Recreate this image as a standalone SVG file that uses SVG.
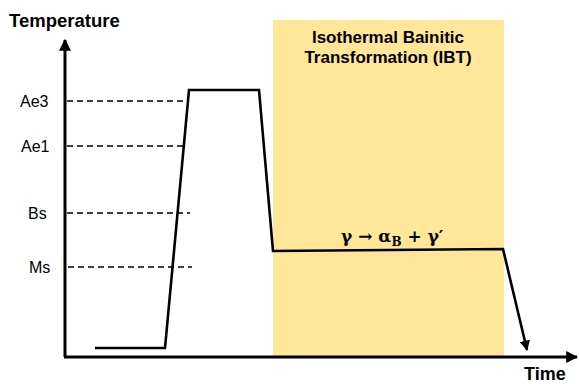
<svg xmlns="http://www.w3.org/2000/svg" width="579" height="384" viewBox="0 0 579 384">
<defs>
<style>
.lbl{font-family:"Liberation Sans",Arial,sans-serif;font-size:16px;fill:#000}
.bold{font-family:"Liberation Sans",Arial,sans-serif;font-weight:bold;fill:#000}
.dash{stroke:#000;stroke-width:1.5;stroke-dasharray:6 4;fill:none}
.axis{stroke:#000;stroke-width:3;fill:none}
.curve{stroke:#000;stroke-width:2.6;fill:none;stroke-linejoin:miter}
.eq{font-family:"DejaVu Serif","Liberation Serif",serif;font-weight:bold;font-size:17px;fill:#000}
</style>
<marker id="ah" viewBox="0 0 10 10" refX="9" refY="5" markerWidth="4" markerHeight="4" orient="auto" markerUnits="strokeWidth">
<path d="M0,0 L10,5 L0,10 z" fill="#000"/>
</marker>
<marker id="ah2" viewBox="0 0 10 10" refX="9" refY="5" markerWidth="4" markerHeight="4" orient="auto" markerUnits="strokeWidth">
<path d="M0,0 L10,5 L0,10 z" fill="#000"/>
</marker>
</defs>
<rect width="579" height="384" fill="#fff"/>
<g id="ibt-zone">
<rect x="273" y="20" width="231" height="336" fill="#FFE699"/>
<text class="bold" font-size="17" x="388" y="43" text-anchor="middle">Isothermal Bainitic</text>
<text class="bold" font-size="17" x="388" y="63" text-anchor="middle">Transformation (IBT)</text>
</g>
<g id="axes">
<line class="axis" x1="65" y1="357" x2="65" y2="40" marker-end="url(#ah)"/>
<line class="axis" x1="64" y1="357" x2="577" y2="357" marker-end="url(#ah)"/>
<text class="bold" font-size="18.5" x="9" y="27">Temperature</text>
<text class="bold" font-size="18" x="524" y="380">Time</text>
</g>
<g id="levels">
<line class="dash" x1="67" y1="101" x2="189" y2="101"/>
<line class="dash" x1="67" y1="146" x2="186" y2="146"/>
<line class="dash" x1="67" y1="213" x2="190" y2="213"/>
<line class="dash" x1="68" y1="267" x2="192" y2="267"/>
<text class="lbl" x="20" y="107">Ae3</text>
<text class="lbl" x="21" y="152">Ae1</text>
<text class="lbl" x="28" y="219">Bs</text>
<text class="lbl" x="29" y="273">Ms</text>
</g>
<g id="connectors">
<polyline class="curve" points="95,348 165,348 189,90 259,90 273,251 503,249 527,350" marker-end="url(#ah2)"/>
</g>
<g id="reaction">
<text class="eq" x="341" y="242">γ → α<tspan font-size="12" dy="4">B</tspan><tspan dy="-4"> + γ′</tspan></text>
</g>
</svg>
